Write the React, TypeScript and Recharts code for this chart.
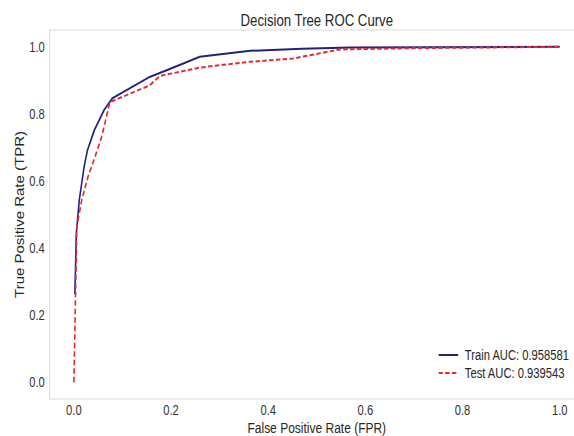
import React from 'react';
import { LineChart, Line, XAxis, YAxis, Legend, ReferenceArea } from 'recharts';

const trainFpr = [0.002, 0.005, 0.011, 0.021, 0.028, 0.042, 0.062, 0.079, 0.156, 0.191, 0.259, 0.363, 0.47, 0.569, 1.0];
const trainTpr = [0.262, 0.443, 0.542, 0.642, 0.692, 0.751, 0.811, 0.846, 0.91, 0.93, 0.97, 0.988, 0.994, 0.998, 1.0];
const testFpr = [0.0, 0.006, 0.016, 0.029, 0.043, 0.057, 0.067, 0.074, 0.156, 0.177, 0.259, 0.362, 0.451, 0.547, 0.7, 1.0];
const testTpr = [0.0, 0.463, 0.542, 0.612, 0.67, 0.731, 0.791, 0.835, 0.885, 0.913, 0.938, 0.955, 0.965, 0.992, 0.996, 1.0];
const xTicks = [0, 0.2, 0.4, 0.6, 0.8, 1.0];
const yTicks = [0, 0.2, 0.4, 0.6, 0.8, 1.0];
const trainLabel = 'Train AUC: 0.958581';
const testLabel = 'Test AUC: 0.939543';
const titleText = 'Decision Tree ROC Curve';
const xLabelText = 'False Positive Rate (FPR)';
const yLabelText = 'True Positive Rate (TPR)';

const trainData = trainFpr.map((f, i) => ({ fpr: f, tpr: trainTpr[i] }));
const testData = testFpr.map((f, i) => ({ fpr: f, tpr: testTpr[i] }));

const FONT = "'Liberation Sans', Arial, Helvetica, sans-serif";
const TRAIN_COLOR = '#1f2280';
const TEST_COLOR = '#e8282c';

const renderLegend = () => (
  <div style={{ fontFamily: FONT, fontSize: 14, color: '#262626', lineHeight: '18px' }}>
    {[
      { label: trainLabel, color: TRAIN_COLOR, dash: undefined },
      { label: testLabel, color: TEST_COLOR, dash: '5.5 3' },
    ].map((e) => (
      <div key={e.label} style={{ display: 'flex', alignItems: 'center', height: 18, whiteSpace: 'nowrap' }}>
        <svg width={25} height={10} style={{ marginRight: 8.5 }}>
          <line x1={0} y1={5} x2={25} y2={5} stroke={e.color} strokeWidth={2} strokeDasharray={e.dash} />
        </svg>
        <span>{e.label}</span>
      </div>
    ))}
  </div>
);

const renderXLabel = (props: any) => {
  const vb = props.viewBox || {};
  return (
    <text x={vb.x + vb.width / 2} y={vb.y + 34} textAnchor="middle" fontFamily={FONT} fontSize={15} fill="#262626">
      {xLabelText}
    </text>
  );
};

const renderYLabel = (props: any) => {
  const vb = props.viewBox || {};
  const cy = vb.y + vb.height / 2;
  const cx = 30;
  return (
    <text x={cx} y={cy} transform={`rotate(-90, ${cx}, ${cy})`} textAnchor="middle" fontFamily={FONT} fontSize={15} fill="#262626">
      {yLabelText}
    </text>
  );
};

export default function App() {
  return (
    <div style={{ position: 'fixed', left: 0, top: 0, width: 574, height: 436, overflow: 'hidden', background: '#fff' }}>
      <div style={{ transform: 'scaleX(0.8)', transformOrigin: '0 0', width: 750, height: 436 }}>
        <LineChart width={750} height={436} margin={{ top: 30, right: 20, bottom: 0, left: 0 }}>
          <text x={396} y={26} textAnchor="middle" fontFamily={FONT} fontSize={16.5} fill="#262626">
            {titleText}
          </text>
          <ReferenceArea x1={-0.05} x2={1.05} y1={-0.05} y2={1.05} fill="none" stroke="#d9d9d9" strokeWidth={1.2} ifOverflow="visible" />
          <XAxis
            type="number"
            dataKey="fpr"
            domain={[-0.05, 1.05]}
            ticks={xTicks}
            allowDataOverflow
            height={37}
            axisLine={false}
            tickLine={false}
            tickSize={0}
            tickMargin={6}
            tickFormatter={(v: number) => v.toFixed(1)}
            tick={{ fontSize: 14, fill: '#333', fontFamily: FONT }}
            label={renderXLabel}
          />
          <YAxis
            type="number"
            dataKey="tpr"
            domain={[-0.05, 1.05]}
            ticks={yTicks}
            allowDataOverflow
            width={62}
            axisLine={false}
            tickLine={false}
            tickSize={0}
            tickMargin={6}
            tickFormatter={(v: number) => v.toFixed(1)}
            tick={{ fontSize: 14, fill: '#333', fontFamily: FONT }}
            label={renderYLabel}
          />
          <Line data={trainData} dataKey="tpr" type="linear" stroke={TRAIN_COLOR} strokeWidth={2} dot={false} activeDot={false} isAnimationActive={false} name={trainLabel} />
          <Line data={testData} dataKey="tpr" type="linear" stroke={TEST_COLOR} strokeWidth={2} strokeDasharray="5.5 3" dot={false} activeDot={false} isAnimationActive={false} name={testLabel} />
          <Legend
            layout="vertical"
            align="center"
            verticalAlign="middle"
            content={renderLegend}
            wrapperStyle={{ position: 'absolute', left: 547.5, top: 346, width: 200, height: 36 }}
          />
        </LineChart>
      </div>
    </div>
  );
}
